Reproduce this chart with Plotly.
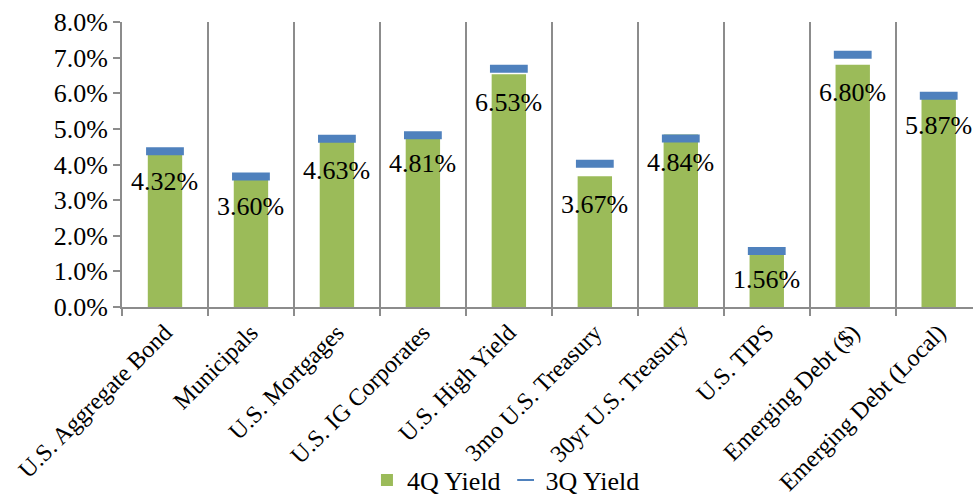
import plotly.graph_objects as go

categories = ["U.S. Aggregate Bond", "Municipals", "U.S. Mortgages", "U.S. IG Corporates",
              "U.S. High Yield", "3mo U.S. Treasury", "30yr U.S. Treasury", "U.S. TIPS",
              "Emerging Debt ($)", "Emerging Debt (Local)"]
yield_4q = [4.32, 3.60, 4.63, 4.81, 6.53, 3.67, 4.84, 1.56, 6.80, 5.87]
yield_3q = [4.37, 3.66, 4.72, 4.82, 6.69, 4.02, 4.73, 1.57, 7.08, 5.93]
y_ticks = [0, 1, 2, 3, 4, 5, 6, 7, 8]

FONT = "Liberation Serif"
GREEN = "#9BBB59"
BLUE = "#4F81BD"
GREY = "#8C8C8C"

fig = go.Figure()
fig.add_trace(go.Bar(x=categories, y=yield_4q, name="4Q Yield", width=0.4,
                     marker=dict(color=GREEN, line=dict(width=0))))
fig.add_trace(go.Scatter(x=categories, y=yield_3q, name="3Q Yield", mode="markers",
                         marker=dict(symbol="line-ew", size=27, color=BLUE,
                                     line=dict(color=BLUE, width=8))))

for c, v in zip(categories, yield_4q):
    fig.add_annotation(x=c, y=v, text=f"{v:.2f}%", showarrow=False, yshift=-28,
                       yanchor="middle", xanchor="center",
                       font=dict(family=FONT, size=26, color="black"))

fig.update_layout(
    width=973, height=495,
    margin=dict(l=122, r=0, t=22, b=188),
    plot_bgcolor="white", paper_bgcolor="white",
    font=dict(family=FONT, size=26, color="black"),
    showlegend=True,
    legend=dict(orientation="h", xref="container", yref="container",
                x=0.52, xanchor="center", y=0.03, yanchor="middle",
                font=dict(family=FONT, size=26), itemsizing="constant",
                bgcolor="rgba(0,0,0,0)", tracegroupgap=0),
    bargap=0.6,
)
fig.update_xaxes(type="category", tickson="boundaries", ticks="outside", ticklen=7,
                 tickcolor=GREY, tickwidth=2, showgrid=True, gridcolor=GREY, gridwidth=2,
                 showline=True, linecolor=GREY, linewidth=2, tickangle=-45,
                 range=[-0.5, 9.399], automargin=False,
                 tickfont=dict(family=FONT, size=24))
fig.update_yaxes(range=[0, 8], tickvals=y_ticks, ticktext=[f"{t:.1f}%" for t in y_ticks],
                 ticks="outside", ticklen=7, tickcolor=GREY, tickwidth=2,
                 showgrid=False, showline=True, linecolor=GREY, linewidth=2,
                 zeroline=False, automargin=False, tickfont=dict(family=FONT, size=26))

fig.write_html("out.html")
